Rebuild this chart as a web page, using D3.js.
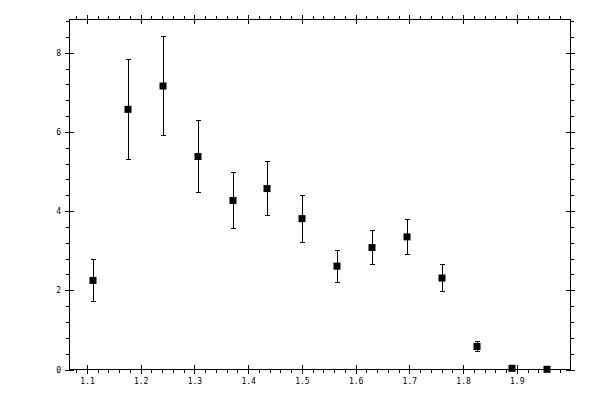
<!DOCTYPE html>
<html>
<head>
<meta charset="utf-8">
<script src="https://cdn.jsdelivr.net/npm/d3@7"></script>
<style>
  body { margin: 0; background: #fff; }
  svg { display: block; }
  .axis text { font-family: "DejaVu Sans Mono", monospace; font-size: 8px; fill: #000; }
  .axis path, .axis line { stroke: #000; stroke-width: 1; shape-rendering: crispEdges; }
</style>
</head>
<body>
<script>
// data
const xVals = [1.11, 1.175, 1.24, 1.305, 1.37, 1.435, 1.5, 1.565, 1.63, 1.695, 1.76, 1.825, 1.89, 1.955]
const yVals = [2.25, 6.57, 7.16, 5.38, 4.27, 4.57, 3.81, 2.61, 3.08, 3.35, 2.31, 0.58, 0.03, 0.005]
const yErrs = [0.54, 1.26, 1.25, 0.9, 0.7, 0.68, 0.59, 0.4, 0.44, 0.44, 0.35, 0.12, 0.03, 0.01]

const xMajor = [1.1, 1.2, 1.3, 1.4, 1.5, 1.6, 1.7, 1.8, 1.9]
const xMinor = d3.range(54, 100).map(d => d / 50).filter(d => Math.round(d * 50) % 5 !== 0)
const yMajor = [0, 2, 4, 6, 8]
const yMinor = d3.range(1, 23).map(d => d * 0.4).filter(d => Math.round(d * 10) % 20 !== 0)

const width = 600, height = 400
const margin = {left: 69.5, top: 19.5}
const w = 501, h = 350

const svg = d3.select('body').append('svg')
    .attr('width', width)
    .attr('height', height)

const g = svg.append('g')
    .attr('transform', `translate(${margin.left},${margin.top})`)

const x = d3.scaleLinear().domain([1.0675, 2.0]).range([0, w])
const y = d3.scaleLinear().domain([0, 8.84]).range([h, 0])

const fmtX = d3.format('.1f')

// major ticks cross the frame, minor ticks point outward
function addAxis(maker, scale, ticks, size, labels, fmt, tr){
    const ax = maker(scale).tickValues(ticks).tickSizeOuter(0).tickSizeInner(size)
    if(labels) ax.tickFormat(fmt).tickPadding(4)
    else ax.tickFormat('')
    const a = g.append('g').attr('class', 'axis').attr('transform', tr || null).call(ax)
    a.select('.domain').remove()
    return a
}

// bottom
addAxis(d3.axisBottom, x, xMajor, 4.5, true, fmtX, `translate(0,${h})`)
addAxis(d3.axisBottom, x, xMajor, -4.5, false, null, `translate(0,${h})`)
addAxis(d3.axisBottom, x, xMinor, 3.5, false, null, `translate(0,${h})`)
// top
addAxis(d3.axisTop, x, xMajor, 4.5, false)
addAxis(d3.axisTop, x, xMajor, -4.5, false)
addAxis(d3.axisTop, x, xMinor, 3.5, false)
// left
addAxis(d3.axisLeft, y, yMajor, 4.5, true, d3.format('d'))
addAxis(d3.axisLeft, y, yMajor, -4.5, false)
addAxis(d3.axisLeft, y, yMinor, 3.5, false)
// right
addAxis(d3.axisRight, y, yMajor, 4.5, false, null, `translate(${w},0)`)
addAxis(d3.axisRight, y, yMajor, -4.5, false, null, `translate(${w},0)`)
addAxis(d3.axisRight, y, yMinor, 3.5, false, null, `translate(${w},0)`)

g.selectAll('.axis text').attr('dy', null)
g.selectAll('.axis text')
    .filter(function(){ return d3.select(this.parentNode.parentNode).attr('transform') === `translate(0,${h})` })
    .attr('y', 14)

// frame
g.append('rect')
    .attr('x', 0)
    .attr('y', 0)
    .attr('width', w)
    .attr('height', h)
    .attr('fill', 'none')
    .attr('stroke', '#000')
    .attr('stroke-width', 1)
    .attr('shape-rendering', 'crispEdges')

g.selectAll('.axis').filter(function(){ return !this.getAttribute('transform') })
    .selectAll('text').attr('dy', '0.32em')

const pts = xVals.map((v, i) => ({x: v, y: yVals[i], e: yErrs[i]}))

const bars = g.append('g')
    .attr('stroke', '#000')
    .attr('stroke-width', 1)
    .attr('shape-rendering', 'crispEdges')

pts.forEach(p => {
    const cx = Math.round(x(p.x)) + 0.5
    bars.append('line')
        .attr('x1', cx).attr('x2', cx)
        .attr('y1', y(p.y + p.e)).attr('y2', y(p.y - p.e))
    bars.append('line')
        .attr('x1', cx - 2.5).attr('x2', cx + 2.5)
        .attr('y1', y(p.y + p.e)).attr('y2', y(p.y + p.e))
    bars.append('line')
        .attr('x1', cx - 2.5).attr('x2', cx + 2.5)
        .attr('y1', y(p.y - p.e)).attr('y2', y(p.y - p.e))
})

g.append('g').selectAll('rect')
    .data(pts)
    .join('rect')
    .attr('x', d => Math.round(x(d.x)) + 0.5 - 3.5)
    .attr('y', d => y(d.y) - 3.5)
    .attr('width', 7)
    .attr('height', 7)
    .attr('fill', '#000')
</script>
</body>
</html>
